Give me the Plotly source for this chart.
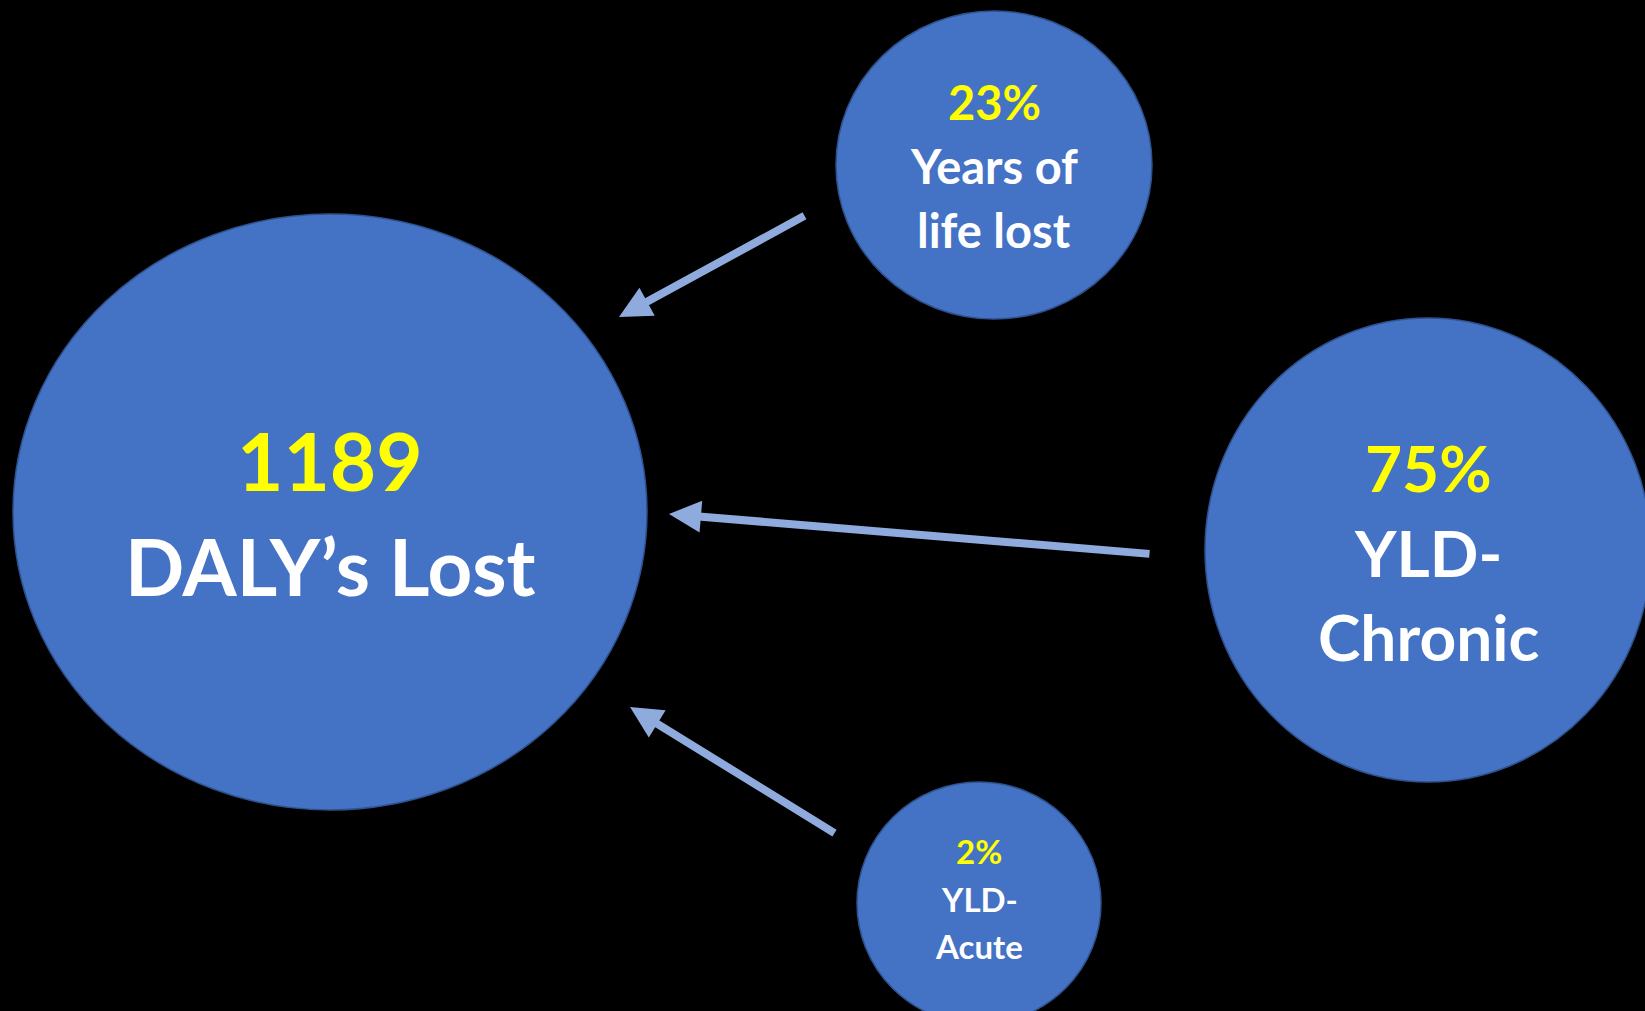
import plotly.graph_objects as go

# Values and labels shown in the diagram
node_names = ['total', 'yll', 'yld_chronic', 'yld_acute']
node_values = ['1189', '23%', '75%', '2%']
node_labels = [["DALY’s Lost"], ['Years of', 'life lost'], ['YLD-', 'Chronic'], ['YLD-', 'Acute']]

# Layout of the bubbles (pixel space, y grows downwards)
NODE_GEOM = {
    'total':       dict(cx=330, cy=512, rx=317, ry=298, size=[80, 78], lines_y=[460, 566]),
    'yll':         dict(cx=994, cy=165, rx=158, ry=154, size=[47, 47, 47], lines_y=[102, 166, 230]),
    'yld_chronic': dict(cx=1428, cy=550, rx=223, ry=232, size=[64, 64, 64], lines_y=[467, 552, 636]),
    'yld_acute':   dict(cx=979, cy=903, rx=122, ry=121, size=[33, 33, 33], lines_y=[851, 899, 946]),
}

# Arrows: (tail x, tail y, tip x, tip y)
ARROWS = [
    (806, 215, 619, 317),
    (1151, 554, 669, 514),
    (836, 834, 630, 707),
]

FILL = '#4472C4'
EDGE = '#2F528F'
ARROW_COLOR = '#8FAADC'
W, H = 1645, 1011

fig = go.Figure()

for name, value, label in zip(node_names, node_values, node_labels):
    g = NODE_GEOM[name]
    fig.add_shape(
        type='circle', xref='x', yref='y',
        x0=g['cx'] - g['rx'], x1=g['cx'] + g['rx'],
        y0=g['cy'] - g['ry'], y1=g['cy'] + g['ry'],
        fillcolor=FILL, line=dict(color=EDGE, width=1.5), layer='below'
    )
    texts = [value] + label
    colors = ['#FFFF00'] + ['#FFFFFF'] * len(label)
    for t, c, y, s in zip(texts, colors, g['lines_y'], g['size']):
        fig.add_annotation(
            x=g['cx'], y=y, text=t, showarrow=False,
            xanchor='center', yanchor='middle',
            font=dict(family='Lato', size=s, color=c, weight='bold')
        )

for x0, y0, x1, y1 in ARROWS:
    fig.add_annotation(
        x=x1, y=y1, ax=x0, ay=y0,
        xref='x', yref='y', axref='x', ayref='y',
        text='', showarrow=True,
        arrowhead=2, arrowsize=0.8, arrowwidth=8,
        arrowcolor=ARROW_COLOR, standoff=0
    )

fig.update_layout(
    width=W, height=H,
    margin=dict(l=0, r=0, t=0, b=0),
    paper_bgcolor='black',
    plot_bgcolor='black',
    showlegend=False
)
fig.update_xaxes(range=[0, W], visible=False, fixedrange=True)
fig.update_yaxes(range=[H, 0], visible=False, fixedrange=True)

# drop the default page margin so the figure fills the window
fig.write_html(
    "out.html",
    config={'displayModeBar': False},
    post_script="document.body.style.margin='0';document.body.style.background='black';document.body.style.overflow='hidden';"
)
